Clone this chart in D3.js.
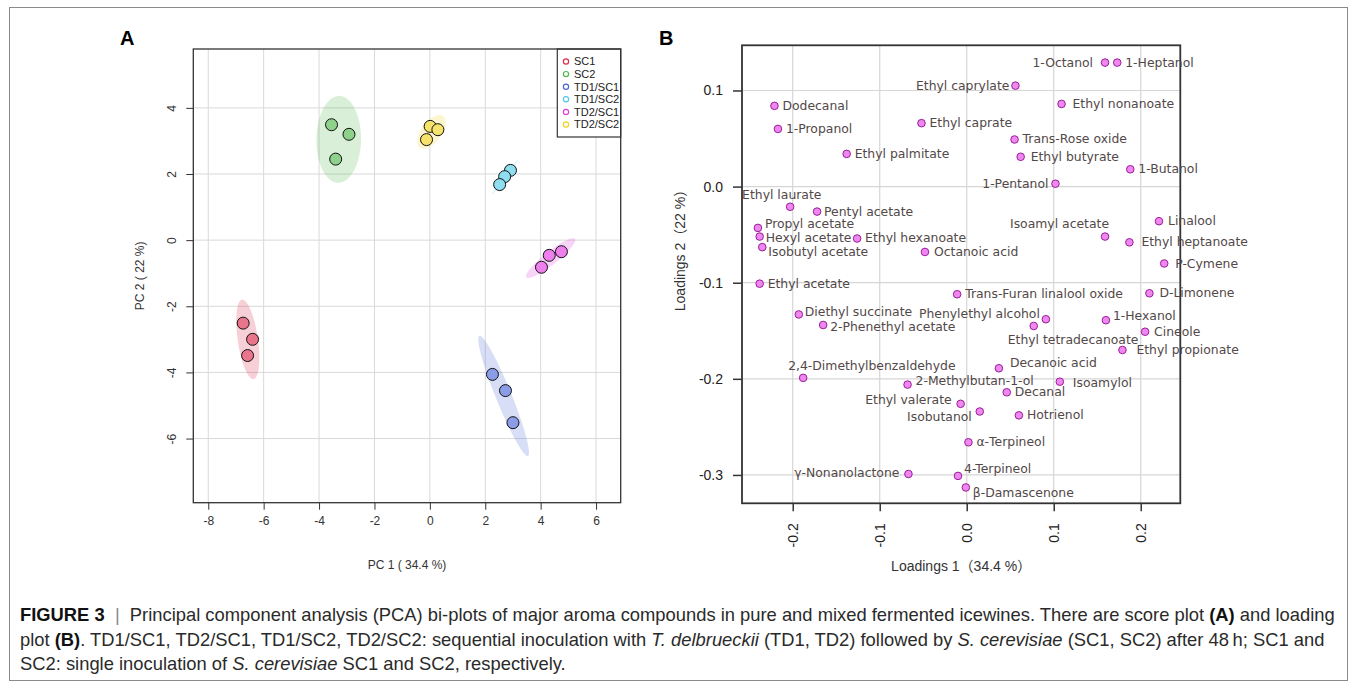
<!DOCTYPE html>
<html>
<head>
<meta charset="utf-8">
<script src="https://cdn.jsdelivr.net/npm/d3@7"></script>
<style>
  body { margin: 0; background: #fff; }
  svg { display: block; }
</style>
</head>
<body>
<div id="chart"></div>
<script>
// ---- score plot (A) data ----
const groups = ['SC1', 'SC2', 'TD1/SC1', 'TD1/SC2', 'TD2/SC1', 'TD2/SC2'];
const scoreGroup = [
  'SC1', 'SC1', 'SC1',
  'SC2', 'SC2', 'SC2',
  'TD1/SC1', 'TD1/SC1', 'TD1/SC1',
  'TD1/SC2', 'TD1/SC2', 'TD1/SC2',
  'TD2/SC1', 'TD2/SC1', 'TD2/SC1',
  'TD2/SC2', 'TD2/SC2', 'TD2/SC2',
];
const scorePC1 = [-6.74, -6.40, -6.58, -3.55, -2.92, -3.40, 2.26, 2.73, 3.00, 2.91, 2.70, 2.52, 4.75, 4.31, 4.03, 0.01, 0.29, -0.12];
const scorePC2 = [-2.51, -3.00, -3.49, 3.49, 3.20, 2.45, -4.06, -4.55, -5.52, 2.11, 1.92, 1.68, -0.35, -0.46, -0.82, 3.44, 3.34, 3.04];
const pcXTicks = [-8, -6, -4, -2, 0, 2, 4, 6];
const pcYTicks = [-6, -4, -2, 0, 2, 4];

// ---- loading plot (B) data ----
const compounds = [
  '1-Octanol', '1-Heptanol', 'Ethyl caprylate', 'Ethyl nonanoate', 'Dodecanal',
  '1-Propanol', 'Ethyl caprate', 'Trans-Rose oxide', 'Ethyl palmitate', 'Ethyl butyrate',
  '1-Butanol', '1-Pentanol', 'Ethyl laurate', 'Pentyl acetate', 'Propyl acetate',
  'Hexyl acetate', 'Isobutyl acetate', 'Ethyl hexanoate', 'Octanoic acid', 'Isoamyl acetate',
  'Linalool', 'Ethyl heptanoate', 'P-Cymene', 'Ethyl acetate', 'Trans-Furan linalool oxide',
  'D-Limonene', 'Diethyl succinate', '2-Phenethyl acetate', 'Phenylethyl alcohol', '1-Hexanol',
  'Ethyl tetradecanoate', 'Cineole', 'Ethyl propionate', '2,4-Dimethylbenzaldehyde', 'Decanoic acid',
  '2-Methylbutan-1-ol', 'Isoamylol', 'Decanal', 'Ethyl valerate', 'Isobutanol',
  'Hotrienol', 'α-Terpineol', 'γ-Nonanolactone', '4-Terpineol', 'β-Damascenone',
];
const loading1 = [
  0.159, 0.173, 0.056, 0.109, -0.221,
  -0.217, -0.052, 0.055, -0.138, 0.062,
  0.188, 0.102, -0.203, -0.172, -0.240,
  -0.238, -0.235, -0.126, -0.048, 0.159,
  0.221, 0.187, 0.227, -0.238, -0.011,
  0.210, -0.193, -0.165, 0.091, 0.160,
  0.077, 0.205, 0.179, -0.188, 0.037,
  -0.068, 0.107, 0.046, -0.007, 0.015,
  0.060, 0.002, -0.067, -0.010, -0.001,
];
const loading2 = [
  0.129, 0.129, 0.105, 0.086, 0.084,
  0.060, 0.066, 0.049, 0.034, 0.031,
  0.018, 0.003, -0.021, -0.026, -0.043,
  -0.052, -0.063, -0.054, -0.068, -0.052,
  -0.036, -0.058, -0.080, -0.101, -0.112,
  -0.111, -0.133, -0.144, -0.138, -0.139,
  -0.145, -0.151, -0.170, -0.199, -0.189,
  -0.206, -0.203, -0.214, -0.226, -0.234,
  -0.238, -0.266, -0.299, -0.301, -0.313,
];
const loadXTicks = [-0.2, -0.1, 0, 0.1, 0.2];
const loadYTicks = [-0.3, -0.2, -0.1, 0, 0.1];

// label placement for the loading plot: [anchor, dx, dy] in px from the point
const labelPlace = {
  '1-Octanol': ['end', -12, 4], 'Ethyl caprylate': ['end', -6, 4], '1-Pentanol': ['end', -7, 4],
  'Ethyl laurate': ['start', -48, -8], 'Pentyl acetate': ['start', 7, 4], 'Propyl acetate': ['start', 7, 0],
  'Hexyl acetate': ['start', 6, 5], 'Isobutyl acetate': ['start', 6, 9], 'Isoamyl acetate': ['end', 4, -9],
  'Ethyl heptanoate': ['start', 12, 4], 'P-Cymene': ['start', 11, 5], 'Ethyl nonanoate': ['start', 11, 4],
  'Diethyl succinate': ['start', 6, 2], '2-Phenethyl acetate': ['start', 7, 6],
  'Phenylethyl alcohol': ['end', -6, -1], 'Ethyl tetradecanoate': ['start', -26, 18], '1-Hexanol': ['start', 7, 0],
  'Ethyl propionate': ['start', 14, 4], '2,4-Dimethylbenzaldehyde': ['start', -15, -8], 'Decanoic acid': ['start', 11, -1],
  '2-Methylbutan-1-ol': ['start', 8, 0], 'Isoamylol': ['start', 13, 5], 'Ethyl valerate': ['end', -9, 0],
  'Isobutanol': ['end', -8, 9], 'γ-Nonanolactone': ['end', -9, 3], '4-Terpineol': ['start', 6, -3],
  'β-Damascenone': ['start', 7, 10], 'Ethyl butyrate': ['start', 10, 4], 'Octanoic acid': ['start', 9, 4],
  'Linalool': ['start', 9, 4], 'Cineole': ['start', 9, 4], 'D-Limonene': ['start', 10, 4],
};

const groupColors = ['#DC2B4B', '#51B84B', '#4B68D8', '#51CBE8', '#E53CE5', '#F3D21B'];
const color = d3.scaleOrdinal().domain(groups).range(groupColors);

const width = 1357;
const height = 687;
const sans = "Arial, 'Liberation Sans', Helvetica, sans-serif";

const svg = d3.select('#chart').append('svg').attr('width', width).attr('height', height);

// outer frame
svg.append('rect')
  .attr('x', 9.5).attr('y', 7.5).attr('width', 1338).attr('height', 673)
  .attr('fill', 'none').attr('stroke', '#8a8a8a').attr('stroke-width', 1);

// ================= panel A =================
const boxA = { left: 193.3, right: 620.7, top: 49, bottom: 502.7 };
const xA = d3.scaleLinear().domain([-8.54, 6.89]).range([boxA.left, boxA.right]);
const yA = d3.scaleLinear().domain([-7.94, 5.78]).range([boxA.bottom, boxA.top]);

const gA = svg.append('g');

gA.append('text').attr('x', 120).attr('y', 45).text('A')
  .style('font-family', sans).style('font-weight', 'bold').style('font-size', '20px');

gA.selectAll('.vgrid').data(pcXTicks).enter().append('line')
  .attr('x1', (d) => xA(d)).attr('x2', (d) => xA(d))
  .attr('y1', boxA.top).attr('y2', boxA.bottom)
  .attr('stroke', '#d9d9d9').attr('stroke-width', 1);
gA.selectAll('.hgrid').data(pcYTicks).enter().append('line')
  .attr('x1', boxA.left).attr('x2', boxA.right)
  .attr('y1', (d) => yA(d)).attr('y2', (d) => yA(d))
  .attr('stroke', '#d9d9d9').attr('stroke-width', 1);

// 95% ellipses from each group's covariance
const k = Math.sqrt(5.991);
const ellipse = (xs, ys) => {
  const n = xs.length;
  const mx = d3.mean(xs), my = d3.mean(ys);
  let a = 0, b = 0, c = 0;
  for (let i = 0; i < n; i++) {
    a += (xs[i] - mx) ** 2;
    b += (xs[i] - mx) * (ys[i] - my);
    c += (ys[i] - my) ** 2;
  }
  a /= n - 1; b /= n - 1; c /= n - 1;
  const l11 = Math.sqrt(a), l21 = b / l11, l22 = Math.sqrt(Math.max(c - l21 * l21, 1e-9));
  return d3.range(0, 100).map((i) => {
    const t = (i / 100) * 2 * Math.PI;
    const u = Math.cos(t) * k, v = Math.sin(t) * k;
    return [mx + l11 * u, my + l21 * u + l22 * v];
  });
};
const line = d3.line().x((d) => xA(d[0])).y((d) => yA(d[1])).curve(d3.curveLinearClosed);

groups.forEach((g) => {
  const idx = d3.range(scoreGroup.length).filter((i) => scoreGroup[i] === g);
  const pts = ellipse(idx.map((i) => scorePC1[i]), idx.map((i) => scorePC2[i]));
  gA.append('path').attr('d', line(pts))
    .attr('fill', color(g)).attr('fill-opacity', 0.22).attr('stroke', 'none');
});

gA.selectAll('.score').data(d3.range(scoreGroup.length)).enter().append('circle')
  .attr('cx', (i) => xA(scorePC1[i])).attr('cy', (i) => yA(scorePC2[i])).attr('r', 6)
  .attr('fill', (i) => d3.interpolateRgb(color(scoreGroup[i]), '#fff')(0.35))
  .attr('stroke', '#111').attr('stroke-width', 1);

// legend
const leg = gA.append('g');
leg.append('rect').attr('x', 557.3).attr('y', boxA.top).attr('width', boxA.right - 557.3).attr('height', 88)
  .attr('fill', '#fff').attr('stroke', '#333').attr('stroke-width', 1.2);
groups.forEach((g, i) => {
  leg.append('circle').attr('cx', 566).attr('cy', 61.5 + i * 12.6).attr('r', 2.6)
    .attr('fill', 'none').attr('stroke', color(g)).attr('stroke-width', 1.2);
  leg.append('text').attr('x', 574).attr('y', 65.3 + i * 12.6).text(g)
    .style('font-family', sans).style('font-size', '11px').attr('fill', '#222');
});

gA.append('rect').attr('x', boxA.left).attr('y', boxA.top)
  .attr('width', boxA.right - boxA.left).attr('height', boxA.bottom - boxA.top)
  .attr('fill', 'none').attr('stroke', '#333').attr('stroke-width', 1.3);

const axAx = d3.axisBottom(xA).tickValues(pcXTicks).tickSize(7).tickPadding(7).tickFormat((d) => String(d));
gA.append('g').attr('transform', `translate(0,${boxA.bottom})`).call(axAx)
  .call((g) => g.select('.domain').remove())
  .call((g) => g.selectAll('line').attr('stroke', '#333'))
  .call((g) => g.selectAll('text').style('font-family', sans).style('font-size', '12px').attr('fill', '#333'));

const axAy = d3.axisLeft(yA).tickValues(pcYTicks).tickSize(7).tickFormat((d) => String(d));
gA.append('g').attr('transform', `translate(${boxA.left},0)`).call(axAy)
  .call((g) => g.select('.domain').remove())
  .call((g) => g.selectAll('line').attr('stroke', '#333'))
  .call((g) => g.selectAll('text')
    .attr('x', 0).attr('dy', null).attr('transform', 'translate(-21,0) rotate(-90)')
    .attr('y', 4).style('text-anchor', 'middle')
    .style('font-family', sans).style('font-size', '12px').attr('fill', '#333'));

gA.append('text').attr('x', (boxA.left + boxA.right) / 2).attr('y', 568.5)
  .attr('text-anchor', 'middle').text('PC 1 ( 34.4 %)')
  .style('font-family', sans).style('font-size', '12px').attr('fill', '#333');
gA.append('text').attr('transform', `translate(144,${(boxA.top + boxA.bottom) / 2}) rotate(-90)`)
  .attr('text-anchor', 'middle').text('PC 2 ( 22 %)')
  .style('font-family', sans).style('font-size', '12px').attr('fill', '#333');

// ================= panel B =================
const boxB = { left: 742, right: 1180.3, top: 45.3, bottom: 503.3 };
const xB = d3.scaleLinear().domain([-0.2583, 0.2455]).range([boxB.left, boxB.right]);
const yB = d3.scaleLinear().domain([-0.3295, 0.147]).range([boxB.bottom, boxB.top]);

const gB = svg.append('g');
gB.append('text').attr('x', 659).attr('y', 45).text('B')
  .style('font-family', sans).style('font-weight', 'bold').style('font-size', '20px');

gB.selectAll('.vgrid').data(loadXTicks).enter().append('line')
  .attr('x1', (d) => xB(d)).attr('x2', (d) => xB(d))
  .attr('y1', boxB.top).attr('y2', boxB.bottom)
  .attr('stroke', '#d6d6d6').attr('stroke-width', 1.2);
gB.selectAll('.hgrid').data(loadYTicks).enter().append('line')
  .attr('x1', boxB.left).attr('x2', boxB.right)
  .attr('y1', (d) => yB(d)).attr('y2', (d) => yB(d))
  .attr('stroke', '#d6d6d6').attr('stroke-width', 1.2);

gB.append('rect').attr('x', boxB.left).attr('y', boxB.top)
  .attr('width', boxB.right - boxB.left).attr('height', boxB.bottom - boxB.top)
  .attr('fill', 'none').attr('stroke', '#333').attr('stroke-width', 1.8);

gB.selectAll('.load').data(d3.range(compounds.length)).enter().append('circle')
  .attr('cx', (i) => xB(loading1[i])).attr('cy', (i) => yB(loading2[i])).attr('r', 3.8)
  .attr('fill', '#ee88ee').attr('stroke', '#9b1c9b').attr('stroke-width', 1);

gB.selectAll('.lbl').data(d3.range(compounds.length)).enter().append('text')
  .each(function (i) {
    const p = labelPlace[compounds[i]] || ['start', 8, 4];
    d3.select(this)
      .attr('x', xB(loading1[i]) + p[1]).attr('y', yB(loading2[i]) + p[2])
      .attr('text-anchor', p[0]);
  })
  .text((i) => compounds[i])
  .style('font-family', "'DejaVu Sans', Verdana, sans-serif").style('font-size', '12.4px')
  .attr('fill', '#524848');

const fmt1 = (d) => d.toFixed(1);
const axBx = d3.axisBottom(xB).tickValues(loadXTicks).tickSize(8).tickFormat(fmt1);
gB.append('g').attr('transform', `translate(0,${boxB.bottom})`).call(axBx)
  .call((g) => g.select('.domain').remove())
  .call((g) => g.selectAll('line').attr('stroke', '#333').attr('stroke-width', 1.5))
  .call((g) => g.selectAll('text')
    .attr('y', 0).attr('dy', null).attr('transform', 'translate(0,20) rotate(-90)')
    .attr('x', 0).attr('dy', '0.35em').style('text-anchor', 'end')
    .style('font-family', sans).style('font-size', '14px').attr('fill', '#222'));

const axBy = d3.axisLeft(yB).tickValues(loadYTicks).tickSize(9).tickPadding(10).tickFormat(fmt1);
gB.append('g').attr('transform', `translate(${boxB.left},0)`).call(axBy)
  .call((g) => g.select('.domain').remove())
  .call((g) => g.selectAll('line').attr('stroke', '#333').attr('stroke-width', 1.5))
  .call((g) => g.selectAll('text').style('font-family', sans).style('font-size', '14px').attr('fill', '#222'));

gB.append('text').attr('x', (boxB.left + boxB.right) / 2).attr('y', 571)
  .attr('text-anchor', 'middle').text('Loadings 1（34.4 %）')
  .style('font-family', `${sans}, 'Noto Sans CJK SC'`).style('font-size', '14px').attr('fill', '#333');
gB.append('text').attr('transform', 'translate(685,247) rotate(-90)')
  .attr('text-anchor', 'middle').text('Loadings 2（22 %）')
  .style('font-family', `${sans}, 'Noto Sans CJK SC'`).style('font-size', '14px').attr('fill', '#333');

// ================= caption =================
const captionLines = [
  [['FIGURE 3', 'b'], ['  ', ''], ['|', 'g'], ['  Principal component analysis (PCA) bi-plots of major aroma compounds in pure and mixed fermented icewines. There are score plot ', ''], ['(A)', 'b'], [' and loading', '']],
  [['plot ', ''], ['(B)', 'b'], ['. TD1/SC1, TD2/SC1, TD1/SC2, TD2/SC2: sequential inoculation with ', ''], ['T. delbrueckii', 'i'], [' (TD1, TD2) followed by ', ''], ['S. cerevisiae', 'i'], [' (SC1, SC2) after 48\u2009h; SC1 and', '']],
  [['SC2: single inoculation of ', ''], ['S. cerevisiae', 'i'], [' SC1 and SC2, respectively.', '']],
];
const cap = svg.append('g');
const capTexts = captionLines.map((parts, li) => {
  const t = cap.append('text').attr('x', 20).attr('y', 621 + li * 24.5)
    .style('font-family', sans).style('font-size', '16px').style('white-space', 'pre').attr('fill', '#2a2a2a');
  parts.forEach(([s, f]) => {
    t.append('tspan').text(s)
      .style('font-weight', f === 'b' ? 'bold' : null)
      .style('font-style', f === 'i' ? 'italic' : null)
      .attr('fill', f === 'g' ? '#888' : f === 'b' ? '#111' : null);
  });
  return t;
});
const w1 = capTexts[0].node().getComputedTextLength();
const fs = 16 * 1316 / w1;
capTexts.forEach((t) => t.style('font-size', fs + 'px'));
</script>
</body>
</html>
